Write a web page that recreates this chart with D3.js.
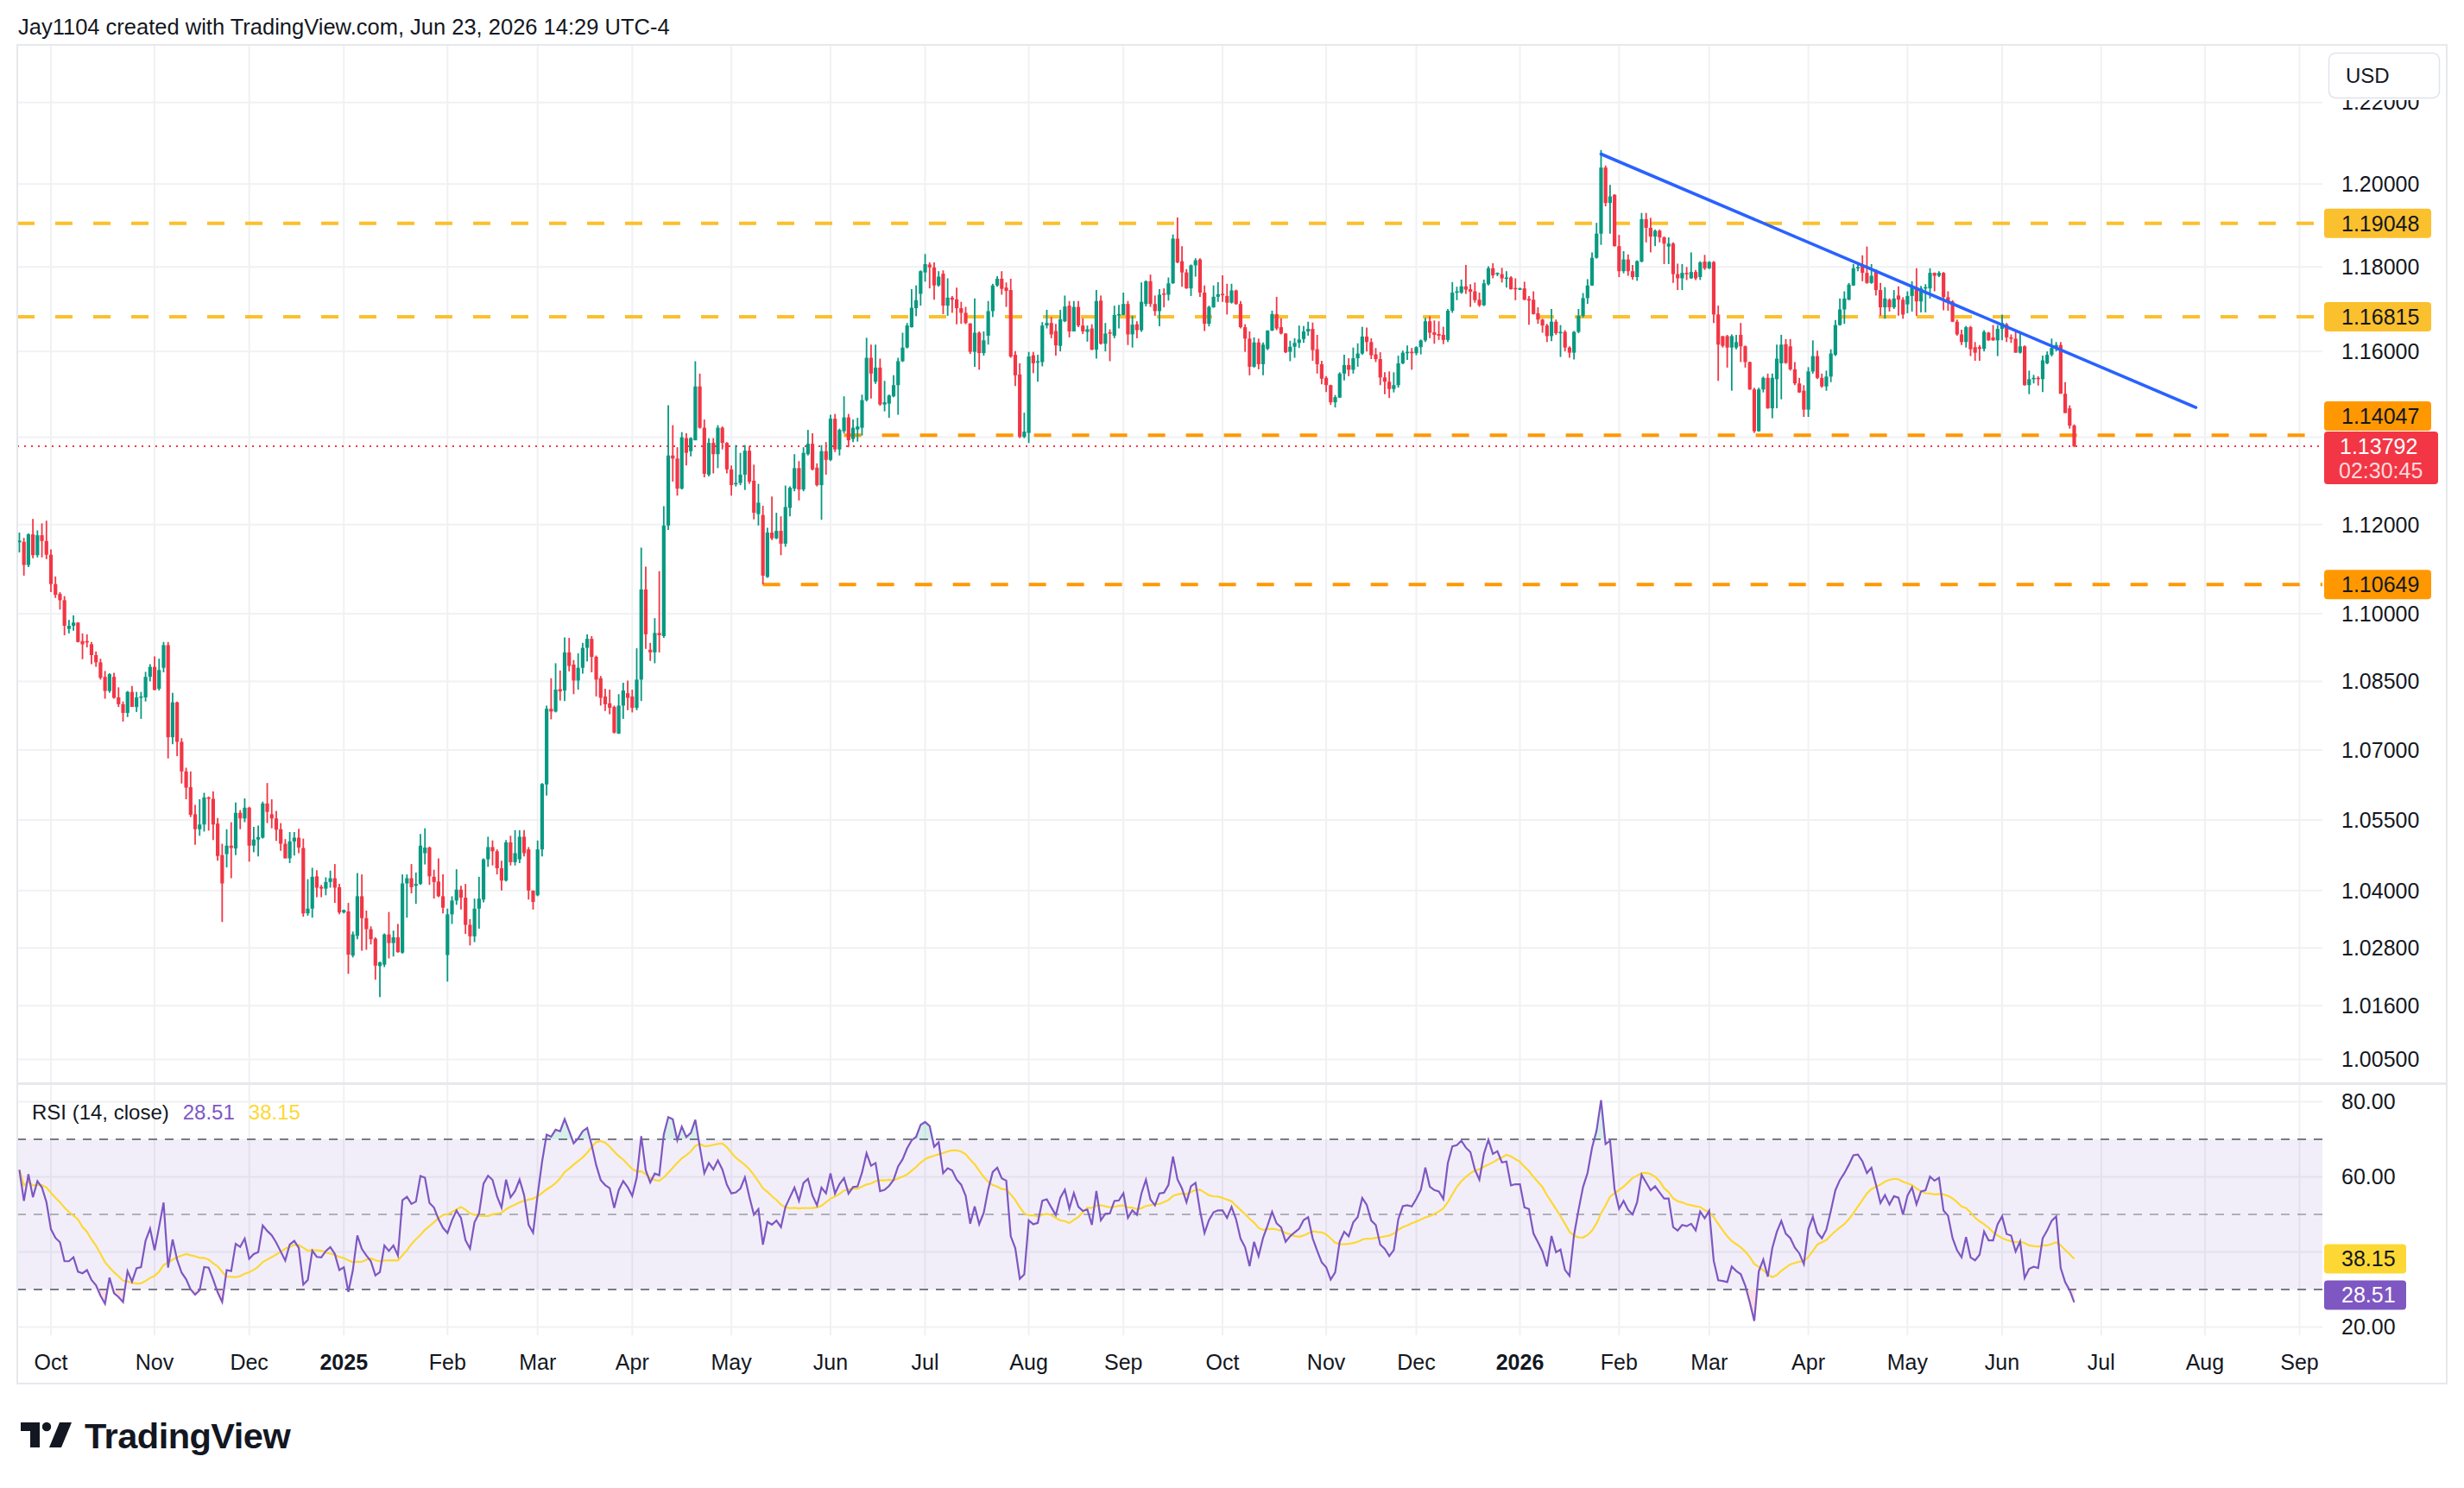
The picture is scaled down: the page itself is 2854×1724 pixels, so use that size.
<!DOCTYPE html>
<html><head><meta charset="utf-8">
<script src="https://cdn.jsdelivr.net/npm/d3@7"></script>
<style>html,body{margin:0;padding:0;background:#fff;}svg{display:block;}</style>
</head><body>
<svg id="c" width="2854" height="1724"></svg>
<script>
// ---------------- DATA ----------------
const titleText = "Jay1104 created with TradingView.com, Jun 23, 2026 14:29 UTC-4";
const startDate = "2024-09-20";
const axisEndDate = "2026-09-30";
const skipDates = ["2024-12-25"];

const opens = [
1.1160,1.1161,1.1109,1.1178,1.1131,1.1176,1.1163,1.1132,1.1066,1.1044,
1.1030,1.0966,1.0973,1.0980,1.0939,1.0939,1.0932,1.0908,1.0892,1.0860,
1.0829,1.0860,1.0815,1.0800,1.0781,1.0827,1.0794,1.0815,1.0815,1.0860,
1.0882,1.0834,1.0880,1.0930,1.0728,1.0804,1.0718,1.0654,1.0620,1.0562,
1.0530,1.0540,1.0598,1.0595,1.0542,1.0475,1.0477,1.0495,1.0489,1.0565,
1.0553,1.0576,1.0495,1.0508,1.0512,1.0585,1.0562,1.0553,1.0530,1.0499,
1.0468,1.0504,1.0512,1.0490,1.0352,1.0362,1.0430,1.0408,1.0404,1.0418,
1.0426,1.0407,1.0354,1.0356,1.0264,1.0305,1.0388,1.0342,1.0319,1.0299,
1.0242,1.0245,1.0308,1.0290,1.0302,1.0270,1.0415,1.0426,1.0410,1.0414,
1.0479,1.0491,1.0429,1.0419,1.0388,1.0265,1.0350,1.0379,1.0402,1.0385,
1.0328,1.0304,1.0362,1.0381,1.0466,1.0492,1.0483,1.0447,1.0421,1.0502,
1.0460,1.0466,1.0514,1.0487,1.0400,1.0390,1.0487,1.0626,1.0790,1.0784,
1.0833,1.0830,1.0914,1.0887,1.0852,1.0880,1.0924,1.0944,1.0904,1.0857,
1.0817,1.0802,1.0794,1.0736,1.0797,1.0824,1.0817,1.0792,1.0854,1.1054,
1.0920,1.0914,1.0957,1.0950,1.1198,1.1358,1.1351,1.1282,1.1398,1.1368,
1.1393,1.1518,1.1422,1.1314,1.1387,1.1361,1.1422,1.1387,1.1326,1.1293,
1.1295,1.1314,1.1369,1.1300,1.1224,1.1222,1.1082,1.1182,1.1169,1.1186,
1.1157,1.1238,1.1282,1.1329,1.1280,1.1361,1.1385,1.1330,1.1290,1.1368,
1.1348,1.1443,1.1372,1.1414,1.1446,1.1396,1.1418,1.1422,1.1486,1.1585,
1.1529,1.1562,1.1476,1.1478,1.1495,1.1521,1.1577,1.1609,1.1657,1.1702,
1.1736,1.1787,1.1806,1.1799,1.1756,1.1784,1.1708,1.1727,1.1723,1.1702,
1.1691,1.1666,1.1599,1.1644,1.1596,1.1637,1.1695,1.1756,1.1772,1.1751,
1.1745,1.1592,1.1546,1.1401,1.1410,1.1591,1.1575,1.1575,1.1661,1.1667,
1.1648,1.1613,1.1671,1.1708,1.1647,1.1705,1.1661,1.1646,1.1654,1.1604,
1.1720,1.1618,1.1645,1.1637,1.1686,1.1686,1.1712,1.1640,1.1664,1.1650,
1.1712,1.1766,1.1712,1.1695,1.1737,1.1734,1.1761,1.1868,1.1814,1.1787,
1.1749,1.1804,1.1818,1.1739,1.1665,1.1704,1.1729,1.1736,1.1731,1.1715,
1.1744,1.1712,1.1657,1.1630,1.1564,1.1621,1.1570,1.1606,1.1649,1.1688,
1.1657,1.1642,1.1599,1.1611,1.1620,1.1629,1.1647,1.1653,1.1605,1.1570,
1.1538,1.1521,1.1481,1.1492,1.1548,1.1568,1.1557,1.1584,1.1595,1.1635,
1.1622,1.1593,1.1582,1.1539,1.1529,1.1512,1.1521,1.1572,1.1597,1.1599,
1.1596,1.1610,1.1626,1.1671,1.1645,1.1641,1.1639,1.1627,1.1696,1.1739,
1.1739,1.1754,1.1747,1.1742,1.1722,1.1709,1.1759,1.1797,1.1783,1.1783,
1.1773,1.1775,1.1750,1.1747,1.1749,1.1724,1.1722,1.1690,1.1675,1.1661,
1.1636,1.1670,1.1643,1.1646,1.1609,1.1597,1.1646,1.1684,1.1726,1.1756,
1.1822,1.1880,1.2040,1.1954,1.1974,1.1850,1.1790,1.1818,1.1790,1.1776,
1.1813,1.1915,1.1894,1.1873,1.1887,1.1871,1.1849,1.1856,1.1783,1.1773,
1.1786,1.1773,1.1788,1.1776,1.1813,1.1797,1.1812,1.1687,1.1636,1.1636,
1.1609,1.1609,1.1639,1.1612,1.1575,1.1511,1.1414,1.1511,1.1538,1.1467,
1.1535,1.1572,1.1617,1.1612,1.1558,1.1525,1.1508,1.1464,1.1553,1.1589,
1.1538,1.1518,1.1541,1.1592,1.1662,1.1699,1.1722,1.1756,1.1798,1.1804,
1.1786,1.1762,1.1793,1.1745,1.1704,1.1722,1.1704,1.1732,1.1722,1.1711,
1.1731,1.1752,1.1718,1.1749,1.1749,1.1786,1.1779,1.1786,1.1728,1.1718,
1.1670,1.1640,1.1622,1.1657,1.1610,1.1610,1.1606,1.1644,1.1633,1.1626,
1.1653,1.1664,1.1633,1.1630,1.1597,1.1612,1.1521,1.1535,1.1538,1.1535,
1.1572,1.1592,1.1608,1.1615,1.1501,1.1467,1.1427];

const highs = [
1.1182,1.1170,1.1180,1.1213,1.1187,1.1203,1.1209,1.1144,1.1083,1.1048,
1.1039,1.0986,1.0996,1.0981,1.0956,1.0954,1.0937,1.0916,1.0900,1.0873,
1.0868,1.0869,1.0837,1.0806,1.0829,1.0840,1.0827,1.0827,1.0871,1.0888,
1.0905,1.0900,1.0937,1.0937,1.0825,1.0806,1.0726,1.0662,1.0654,1.0582,
1.0594,1.0608,1.0600,1.0611,1.0554,1.0499,1.0530,1.0545,1.0587,1.0571,
1.0596,1.0578,1.0535,1.0538,1.0589,1.0629,1.0594,1.0569,1.0543,1.0509,
1.0524,1.0524,1.0531,1.0510,1.0424,1.0448,1.0443,1.0412,1.0428,1.0442,
1.0456,1.0414,1.0360,1.0374,1.0314,1.0437,1.0434,1.0358,1.0325,1.0302,
1.0251,1.0310,1.0355,1.0316,1.0330,1.0434,1.0434,1.0456,1.0438,1.0520,
1.0532,1.0493,1.0444,1.0468,1.0434,1.0362,1.0388,1.0445,1.0410,1.0414,
1.0340,1.0383,1.0429,1.0468,1.0514,1.0506,1.0487,1.0463,1.0507,1.0516,
1.0528,1.0528,1.0528,1.0492,1.0400,1.0506,1.0629,1.0797,1.0857,1.0890,
1.0874,1.0947,1.0946,1.0897,1.0912,1.0935,1.0954,1.0950,1.0907,1.0862,
1.0834,1.0832,1.0797,1.0822,1.0847,1.0852,1.0832,1.0923,1.1148,1.1105,
1.0935,1.0990,1.1095,1.1242,1.1474,1.1428,1.1377,1.1412,1.1409,1.1400,
1.1577,1.1548,1.1441,1.1398,1.1398,1.1428,1.1425,1.1389,1.1335,1.1382,
1.1364,1.1382,1.1380,1.1337,1.1293,1.1243,1.1193,1.1264,1.1227,1.1219,
1.1289,1.1287,1.1361,1.1345,1.1377,1.1417,1.1409,1.1340,1.1382,1.1389,
1.1452,1.1454,1.1420,1.1495,1.1454,1.1441,1.1445,1.1499,1.1632,1.1616,
1.1616,1.1583,1.1531,1.1499,1.1544,1.1585,1.1644,1.1667,1.1747,1.1756,
1.1792,1.1831,1.1811,1.1811,1.1790,1.1792,1.1773,1.1731,1.1751,1.1717,
1.1705,1.1666,1.1725,1.1647,1.1647,1.1719,1.1760,1.1778,1.1790,1.1763,
1.1772,1.1601,1.1572,1.1457,1.1599,1.1599,1.1592,1.1669,1.1698,1.1681,
1.1665,1.1698,1.1732,1.1719,1.1719,1.1719,1.1678,1.1661,1.1664,1.1745,
1.1732,1.1667,1.1652,1.1708,1.1710,1.1739,1.1719,1.1684,1.1671,1.1763,
1.1768,1.1782,1.1732,1.1747,1.1749,1.1775,1.1878,1.1919,1.1850,1.1795,
1.1806,1.1821,1.1821,1.1756,1.1708,1.1756,1.1764,1.1780,1.1760,1.1760,
1.1746,1.1719,1.1664,1.1647,1.1633,1.1630,1.1621,1.1650,1.1696,1.1729,
1.1678,1.1643,1.1625,1.1631,1.1661,1.1660,1.1670,1.1668,1.1639,1.1578,
1.1542,1.1522,1.1498,1.1551,1.1592,1.1584,1.1609,1.1619,1.1658,1.1656,
1.1631,1.1608,1.1598,1.1551,1.1553,1.1551,1.1590,1.1602,1.1614,1.1608,
1.1612,1.1628,1.1679,1.1683,1.1673,1.1671,1.1658,1.1700,1.1764,1.1753,
1.1770,1.1805,1.1759,1.1763,1.1739,1.1770,1.1802,1.1809,1.1787,1.1798,
1.1790,1.1778,1.1773,1.1751,1.1765,1.1731,1.1742,1.1704,1.1677,1.1665,
1.1700,1.1675,1.1662,1.1650,1.1612,1.1648,1.1700,1.1738,1.1771,1.1835,
1.1906,1.2083,1.2045,1.1998,1.1975,1.1877,1.1838,1.1830,1.1805,1.1816,
1.1930,1.1930,1.1918,1.1890,1.1890,1.1873,1.1871,1.1859,1.1808,1.1807,
1.1800,1.1835,1.1793,1.1814,1.1829,1.1814,1.1814,1.1708,1.1636,1.1639,
1.1640,1.1639,1.1667,1.1614,1.1576,1.1515,1.1515,1.1541,1.1548,1.1548,
1.1616,1.1639,1.1629,1.1629,1.1575,1.1538,1.1521,1.1563,1.1626,1.1602,
1.1548,1.1555,1.1605,1.1674,1.1725,1.1742,1.1762,1.1807,1.1806,1.1828,
1.1849,1.1807,1.1794,1.1762,1.1752,1.1725,1.1745,1.1754,1.1728,1.1742,
1.1766,1.1797,1.1755,1.1759,1.1797,1.1787,1.1790,1.1788,1.1742,1.1721,
1.1675,1.1651,1.1660,1.1660,1.1622,1.1615,1.1650,1.1646,1.1662,1.1662,
1.1687,1.1667,1.1640,1.1650,1.1646,1.1614,1.1555,1.1545,1.1542,1.1590,
1.1600,1.1630,1.1622,1.1622,1.1528,1.1474,1.1430];

const lows = [
1.1137,1.1085,1.1104,1.1124,1.1126,1.1126,1.1122,1.1048,1.1035,1.1009,
1.0952,1.0956,1.0962,1.0936,1.0899,1.0925,1.0888,1.0882,1.0854,1.0812,
1.0825,1.0812,1.0794,1.0762,1.0772,1.0794,1.0783,1.0768,1.0806,1.0850,
1.0831,1.0830,1.0870,1.0682,1.0713,1.0687,1.0628,1.0594,1.0556,1.0497,
1.0516,1.0525,1.0527,1.0507,1.0463,1.0334,1.0449,1.0426,1.0475,1.0530,
1.0545,1.0461,1.0481,1.0472,1.0510,1.0543,1.0532,1.0505,1.0484,1.0468,
1.0458,1.0474,1.0479,1.0345,1.0347,1.0343,1.0386,1.0386,1.0390,1.0406,
1.0374,1.0350,1.0352,1.0226,1.0260,1.0298,1.0274,1.0276,1.0287,1.0214,
1.0178,1.0240,1.0258,1.0262,1.0270,1.0268,1.0343,1.0394,1.0372,1.0412,
1.0455,1.0412,1.0383,1.0386,1.0352,1.0210,1.0330,1.0370,1.0360,1.0309,
1.0285,1.0292,1.0320,1.0375,1.0450,1.0453,1.0434,1.0400,1.0419,1.0453,
1.0453,1.0458,1.0472,1.0381,1.0360,1.0388,1.0472,1.0602,1.0767,1.0782,
1.0808,1.0807,1.0872,1.0822,1.0832,1.0867,1.0894,1.0870,1.0817,1.0797,
1.0785,1.0778,1.0736,1.0735,1.0768,1.0787,1.0782,1.0787,1.0807,1.0922,
1.0895,1.0890,1.0914,1.0946,1.1188,1.1298,1.1266,1.1280,1.1335,1.1356,
1.1393,1.1420,1.1308,1.1310,1.1317,1.1329,1.1372,1.1317,1.1266,1.1287,
1.1290,1.1279,1.1293,1.1212,1.1198,1.1065,1.1080,1.1165,1.1167,1.1131,
1.1150,1.1219,1.1276,1.1255,1.1276,1.1358,1.1324,1.1287,1.1211,1.1314,
1.1345,1.1366,1.1358,1.1409,1.1377,1.1389,1.1390,1.1404,1.1483,1.1490,
1.1524,1.1473,1.1460,1.1445,1.1493,1.1452,1.1575,1.1607,1.1656,1.1683,
1.1708,1.1765,1.1749,1.1722,1.1753,1.1688,1.1684,1.1691,1.1664,1.1665,
1.1664,1.1594,1.1564,1.1557,1.1590,1.1616,1.1681,1.1753,1.1734,1.1705,
1.1585,1.1519,1.1398,1.1398,1.1387,1.1549,1.1529,1.1565,1.1654,1.1631,
1.1590,1.1600,1.1669,1.1633,1.1647,1.1657,1.1641,1.1623,1.1603,1.1583,
1.1616,1.1600,1.1577,1.1631,1.1654,1.1685,1.1615,1.1609,1.1631,1.1646,
1.1706,1.1705,1.1684,1.1659,1.1704,1.1720,1.1760,1.1809,1.1753,1.1748,
1.1731,1.1777,1.1729,1.1648,1.1659,1.1703,1.1717,1.1717,1.1687,1.1713,
1.1710,1.1654,1.1599,1.1544,1.1562,1.1558,1.1544,1.1603,1.1648,1.1650,
1.1640,1.1596,1.1577,1.1585,1.1608,1.1620,1.1637,1.1578,1.1548,1.1523,
1.1505,1.1475,1.1469,1.1491,1.1532,1.1542,1.1548,1.1564,1.1592,1.1600,
1.1582,1.1575,1.1521,1.1500,1.1491,1.1504,1.1515,1.1570,1.1580,1.1557,
1.1591,1.1593,1.1622,1.1631,1.1618,1.1627,1.1617,1.1622,1.1691,1.1721,
1.1736,1.1736,1.1705,1.1715,1.1705,1.1707,1.1756,1.1773,1.1778,1.1763,
1.1751,1.1746,1.1721,1.1745,1.1721,1.1663,1.1687,1.1665,1.1644,1.1622,
1.1624,1.1639,1.1587,1.1600,1.1585,1.1581,1.1643,1.1680,1.1712,1.1755,
1.1820,1.1853,1.1946,1.1880,1.1849,1.1776,1.1785,1.1779,1.1770,1.1767,
1.1811,1.1859,1.1835,1.1850,1.1859,1.1807,1.1807,1.1762,1.1745,1.1745,
1.1769,1.1772,1.1769,1.1769,1.1793,1.1795,1.1667,1.1531,1.1609,1.1562,
1.1508,1.1605,1.1575,1.1562,1.1510,1.1410,1.1413,1.1504,1.1466,1.1444,
1.1467,1.1488,1.1571,1.1555,1.1521,1.1503,1.1447,1.1447,1.1548,1.1535,
1.1515,1.1508,1.1528,1.1589,1.1661,1.1665,1.1721,1.1755,1.1790,1.1766,
1.1760,1.1760,1.1732,1.1684,1.1677,1.1694,1.1700,1.1684,1.1677,1.1690,
1.1694,1.1684,1.1692,1.1692,1.1725,1.1742,1.1776,1.1697,1.1696,1.1669,
1.1637,1.1615,1.1609,1.1589,1.1578,1.1578,1.1600,1.1625,1.1625,1.1589,
1.1626,1.1622,1.1620,1.1597,1.1595,1.1520,1.1500,1.1525,1.1520,1.1505,
1.1570,1.1588,1.1600,1.1501,1.1456,1.1420,1.1377];

const closes = [
1.1164,1.1109,1.1178,1.1131,1.1176,1.1163,1.1132,1.1066,1.1042,1.1030,
1.0973,1.0973,1.0980,1.0937,1.0932,1.0937,1.0908,1.0892,1.0858,1.0829,
1.0866,1.0814,1.0800,1.0781,1.0827,1.0794,1.0815,1.0817,1.0860,1.0882,
1.0831,1.0875,1.0930,1.0728,1.0804,1.0718,1.0654,1.0619,1.0561,1.0530,
1.0540,1.0598,1.0595,1.0540,1.0473,1.0415,1.0495,1.0490,1.0565,1.0553,
1.0576,1.0495,1.0508,1.0513,1.0585,1.0567,1.0553,1.0529,1.0499,1.0468,
1.0504,1.0512,1.0491,1.0352,1.0362,1.0429,1.0406,1.0404,1.0418,1.0426,
1.0406,1.0354,1.0359,1.0266,1.0308,1.0388,1.0342,1.0319,1.0298,1.0243,
1.0250,1.0308,1.0290,1.0302,1.0271,1.0415,1.0426,1.0407,1.0414,1.0495,
1.0491,1.0430,1.0418,1.0388,1.0364,1.0350,1.0379,1.0402,1.0385,1.0328,
1.0304,1.0362,1.0383,1.0466,1.0492,1.0483,1.0447,1.0421,1.0502,1.0460,
1.0479,1.0514,1.0479,1.0400,1.0376,1.0487,1.0627,1.0790,1.0784,1.0832,
1.0828,1.0914,1.0884,1.0852,1.0880,1.0924,1.0944,1.0904,1.0854,1.0814,
1.0800,1.0792,1.0738,1.0797,1.0830,1.0814,1.0792,1.0854,1.1054,1.0954,
1.0914,1.0957,1.0952,1.1198,1.1358,1.1351,1.1282,1.1400,1.1364,1.1398,
1.1518,1.1422,1.1316,1.1387,1.1361,1.1422,1.1387,1.1326,1.1290,1.1295,
1.1314,1.1369,1.1298,1.1227,1.1250,1.1085,1.1182,1.1169,1.1186,1.1157,
1.1240,1.1284,1.1329,1.1280,1.1364,1.1385,1.1326,1.1290,1.1368,1.1348,
1.1443,1.1372,1.1417,1.1446,1.1393,1.1422,1.1425,1.1486,1.1585,1.1548,
1.1562,1.1476,1.1481,1.1497,1.1521,1.1577,1.1609,1.1661,1.1703,1.1721,
1.1790,1.1807,1.1799,1.1756,1.1777,1.1708,1.1727,1.1722,1.1702,1.1691,
1.1667,1.1599,1.1644,1.1596,1.1626,1.1695,1.1756,1.1772,1.1748,1.1743,
1.1588,1.1544,1.1401,1.1413,1.1588,1.1572,1.1577,1.1661,1.1667,1.1640,
1.1614,1.1676,1.1706,1.1647,1.1705,1.1661,1.1647,1.1652,1.1604,1.1719,
1.1618,1.1642,1.1643,1.1686,1.1688,1.1712,1.1640,1.1663,1.1650,1.1717,
1.1766,1.1712,1.1695,1.1734,1.1736,1.1761,1.1868,1.1811,1.1787,1.1749,
1.1804,1.1816,1.1739,1.1665,1.1705,1.1729,1.1735,1.1735,1.1715,1.1744,
1.1712,1.1657,1.1630,1.1564,1.1621,1.1570,1.1616,1.1649,1.1688,1.1654,
1.1642,1.1598,1.1611,1.1620,1.1628,1.1647,1.1653,1.1603,1.1570,1.1536,
1.1521,1.1481,1.1493,1.1548,1.1568,1.1557,1.1584,1.1595,1.1635,1.1622,
1.1591,1.1582,1.1539,1.1529,1.1512,1.1521,1.1572,1.1597,1.1599,1.1597,
1.1610,1.1626,1.1671,1.1644,1.1639,1.1637,1.1627,1.1696,1.1739,1.1742,
1.1754,1.1746,1.1741,1.1721,1.1709,1.1761,1.1797,1.1780,1.1786,1.1773,
1.1775,1.1747,1.1749,1.1749,1.1722,1.1720,1.1688,1.1675,1.1661,1.1636,
1.1670,1.1643,1.1646,1.1609,1.1597,1.1646,1.1684,1.1726,1.1756,1.1822,
1.1880,1.2040,1.1954,1.1970,1.1850,1.1790,1.1818,1.1790,1.1776,1.1814,
1.1915,1.1894,1.1873,1.1887,1.1871,1.1856,1.1856,1.1783,1.1773,1.1786,
1.1783,1.1788,1.1773,1.1811,1.1797,1.1812,1.1687,1.1616,1.1613,1.1609,
1.1636,1.1622,1.1612,1.1575,1.1511,1.1414,1.1511,1.1538,1.1467,1.1538,
1.1583,1.1616,1.1573,1.1558,1.1525,1.1504,1.1464,1.1553,1.1589,1.1538,
1.1518,1.1541,1.1595,1.1662,1.1699,1.1725,1.1758,1.1797,1.1800,1.1786,
1.1762,1.1779,1.1745,1.1704,1.1725,1.1704,1.1725,1.1722,1.1687,1.1731,
1.1752,1.1718,1.1749,1.1752,1.1786,1.1779,1.1786,1.1728,1.1718,1.1670,
1.1640,1.1622,1.1657,1.1605,1.1597,1.1606,1.1646,1.1626,1.1626,1.1653,
1.1667,1.1633,1.1630,1.1597,1.1612,1.1521,1.1535,1.1538,1.1535,1.1579,
1.1592,1.1608,1.1615,1.1501,1.1456,1.1427,1.13792];

// closes of the 14 sessions before the first visible bar (RSI warm-up)
const rsiSeedCloses = [1.1073,1.1045,1.1088,1.1111,1.1083,1.1039,1.1035,1.1012,1.1075,1.1074,1.1134,1.1116,1.1117,1.1162];

const priceTicks = [1.22,1.20,1.18,1.16,1.14,1.12,1.10,1.085,1.07,1.055,1.04,1.028,1.016,1.005];
const rsiTicks = [80,60,40,20];
const rsiBands = [70,50,30];

const levelPrices = [1.19048,1.16815,1.14047,1.10649];
const levelStarts = [null,null,"2025-06-05","2025-05-12"];
const levelKinds  = ["yellow","yellow","orange","orange"];

const trendDates  = ["2026-01-27","2026-07-30"];
const trendPrices = [1.2073,1.1469];

const lastPrice = 1.13792;
const countdown = "02:30:45";
const rsiLast = 28.51;
const rsiMaLast = 38.15;
const currency = "USD";
const monthNames = ["Jan","Feb","Mar","Apr","May","Jun","Jul","Aug","Sep","Oct","Nov","Dec"];

// ---------------- LAYOUT ----------------
const FONT = "'Liberation Sans', Arial, sans-serif";
const TXT = "#131722";
const GREEN = "#089981", RED = "#F23645";
const COLORS = {yellow:"#FBC02D", orange:"#FF9800"};
const paneL = 20, paneR = 2690, priceTop = 52, priceBot = 1255, rsiTop = 1257, rsiBot = 1547;
const frameR = 2834, frameB = 1603;

function genDates(start, end) {
  const out = []; const d = new Date(start + "T00:00:00Z"); const e = new Date(end + "T00:00:00Z");
  while (d <= e) {
    const wd = d.getUTCDay(); const s = d.toISOString().slice(0, 10);
    if (wd !== 0 && wd !== 6 && !skipDates.includes(s)) out.push(s);
    d.setUTCDate(d.getUTCDate() + 1);
  }
  return out;
}
const dates = genDates(startDate, axisEndDate);
const kOf = s => dates.indexOf(s);
const n = closes.length;

const x = d3.scaleLinear().domain([kOf("2024-10-01"), kOf("2026-06-01")]).range([59, 2319]);
const y = d3.scaleLog().domain([1.0002, 1.2343]).range([priceBot, priceTop]);
const yr = d3.scaleLinear().domain([20, 80]).range([1537.5, 1276.5]);

const svg = d3.select("#c");
svg.append("rect").attr("width", 2854).attr("height", 1724).attr("fill", "#fff");
const defs = svg.append("defs");
defs.append("clipPath").attr("id", "clipP").append("rect").attr("x", paneL).attr("y", priceTop).attr("width", paneR - paneL).attr("height", priceBot - priceTop);
defs.append("clipPath").attr("id", "clipR").append("rect").attr("x", paneL).attr("y", rsiTop).attr("width", paneR - paneL).attr("height", rsiBot - rsiTop);
defs.append("clipPath").attr("id", "clipOB").append("rect").attr("x", paneL).attr("y", rsiTop).attr("width", paneR - paneL).attr("height", yr(70) - rsiTop);
defs.append("clipPath").attr("id", "clipOS").append("rect").attr("x", paneL).attr("y", yr(30)).attr("width", paneR - paneL).attr("height", rsiBot - yr(30));

// month ticks
const monthTicks = [];
for (let k = 1; k < dates.length; k++) if (dates[k].slice(5, 7) !== dates[k - 1].slice(5, 7)) monthTicks.push(k);

// grid
const grid = svg.append("g").attr("stroke", "#F0F1F3").attr("stroke-width", 2);
monthTicks.forEach(k => grid.append("line").attr("x1", x(k)).attr("x2", x(k)).attr("y1", priceTop).attr("y2", rsiBot));
priceTicks.forEach(p => grid.append("line").attr("x1", paneL).attr("x2", paneR).attr("y1", y(p)).attr("y2", y(p)));
rsiTicks.forEach(v => grid.append("line").attr("x1", paneL).attr("x2", paneR).attr("y1", yr(v)).attr("y2", yr(v)));

// RSI band
svg.append("rect").attr("x", paneL).attr("y", yr(70)).attr("width", paneR - paneL).attr("height", yr(30) - yr(70)).attr("fill", "rgba(126,87,194,0.1)");
rsiBands.forEach(v => svg.append("line").attr("x1", paneL).attr("x2", paneR).attr("y1", yr(v)).attr("y2", yr(v))
  .attr("stroke", v === 50 ? "rgba(120,123,134,0.55)" : "#787B86").attr("stroke-width", 2).attr("stroke-dasharray", "10,9"));

// level lines
const pricePane = svg.append("g").attr("clip-path", "url(#clipP)");
levelPrices.forEach((p, j) => {
  const x0 = levelStarts[j] ? x(kOf(levelStarts[j])) : paneL;
  pricePane.append("line").attr("x1", x0).attr("x2", paneR).attr("y1", y(p)).attr("y2", y(p))
    .attr("stroke", COLORS[levelKinds[j]]).attr("stroke-width", 4).attr("stroke-dasharray", "20,24");
});
// current price line
pricePane.append("line").attr("x1", paneL).attr("x2", paneR).attr("y1", y(lastPrice)).attr("y2", y(lastPrice))
  .attr("stroke", RED).attr("stroke-width", 2).attr("stroke-dasharray", "2,6");

// candles
const bw = 4.2;
const cg = pricePane.append("g");
for (let k = 0; k < n; k++) {
  const o = opens[k], c = closes[k];
  const col = c >= o ? GREEN : RED;
  const hi = Math.max(highs[k], o, c), lo = Math.min(lows[k], o, c);
  cg.append("line").attr("x1", x(k)).attr("x2", x(k)).attr("y1", y(hi)).attr("y2", y(lo)).attr("stroke", col).attr("stroke-width", 1.8);
  const yt = y(Math.max(o, c)), yb = y(Math.min(o, c));
  cg.append("rect").attr("x", x(k) - bw / 2).attr("y", yt).attr("width", bw).attr("height", Math.max(1.6, yb - yt)).attr("fill", col);
}
// trend line
pricePane.append("line").attr("x1", x(kOf(trendDates[0]))).attr("y1", y(trendPrices[0]))
  .attr("x2", x(kOf(trendDates[1]))).attr("y2", y(trendPrices[1]))
  .attr("stroke", "#2962FF").attr("stroke-width", 3.6).attr("stroke-linecap", "round");

// RSI (Wilder, 14) and its 14-SMA
const allC = rsiSeedCloses.concat(closes);
const rsiAll = [];
let ag = 0, al = 0;
for (let i = 1; i < allC.length; i++) {
  const ch = allC[i] - allC[i - 1], g = Math.max(ch, 0), l = Math.max(-ch, 0);
  if (i <= 14) { ag += g; al += l; if (i === 14) { ag /= 14; al /= 14; rsiAll[i] = 100 - 100 / (1 + ag / al); } }
  else { ag = (ag * 13 + g) / 14; al = (al * 13 + l) / 14; rsiAll[i] = al === 0 ? 100 : 100 - 100 / (1 + ag / al); }
}
const rsi = closes.map((c, k) => rsiAll[k + rsiSeedCloses.length]);
const rsiMa = rsi.map((v, k) => d3.mean(rsi.slice(Math.max(0, k - 13), k + 1)));

const rsiG = svg.append("g").attr("clip-path", "url(#clipR)");
const areaOB = d3.area().x((d, k) => x(k)).y0(yr(70)).y1(d => yr(d));
rsiG.append("g").attr("clip-path", "url(#clipOB)").append("path").datum(rsi).attr("d", areaOB).attr("fill", "rgba(8,153,129,0.16)");
const areaOS = d3.area().x((d, k) => x(k)).y0(yr(30)).y1(d => yr(d));
rsiG.append("g").attr("clip-path", "url(#clipOS)").append("path").datum(rsi).attr("d", areaOS).attr("fill", "rgba(242,54,69,0.16)");
rsiG.append("path").datum(rsiMa).attr("d", d3.line().x((d, k) => x(k)).y(d => yr(d))).attr("fill", "none").attr("stroke", "#FDD835").attr("stroke-width", 2.2);
rsiG.append("path").datum(rsi).attr("d", d3.line().x((d, k) => x(k)).y(d => yr(d))).attr("fill", "none").attr("stroke", "#7E57C2").attr("stroke-width", 2.2);

// separator and frame
svg.append("line").attr("x1", paneL).attr("x2", frameR).attr("y1", 1255.5).attr("y2", 1255.5).attr("stroke", "#E6E8EC").attr("stroke-width", 3);
svg.append("rect").attr("x", paneL).attr("y", priceTop).attr("width", frameR - paneL).attr("height", frameB - priceTop)
  .attr("fill", "none").attr("stroke", "#E6E8EC").attr("stroke-width", 2);

// --------- right axis labels ----------
const axisX = 2712, boxX = 2692, boxW = 124, boxH = 34;
const boxes = [];
const curTop = y(lastPrice) - 17;
boxes.push({top: curTop, bot: curTop + 61});
const levelBoxes = levelPrices.map((p, j) => {
  let top = y(p) - boxH / 2, bot = top + boxH;
  boxes.forEach(b => { if (bot > b.top && top < b.bot) { bot = b.top - 1; top = bot - boxH; } });
  return {top, bot, j};
});
levelBoxes.forEach(b => boxes.push(b));
const rsiBoxes = [{v: rsiMaLast, fill: "#FDD835", tc: TXT}, {v: rsiLast, fill: "#7E57C2", tc: "#fff"}];
rsiBoxes.forEach(b => boxes.push({top: yr(b.v) - boxH / 2, bot: yr(b.v) + boxH / 2}));

const axisG = svg.append("g").attr("font-family", FONT).attr("font-size", 25).attr("fill", TXT);
function hidden(cy) { return boxes.some(b => cy + 10 > b.top && cy - 10 < b.bot); }
priceTicks.forEach(p => { const cy = y(p); if (!hidden(cy)) axisG.append("text").attr("x", axisX).attr("y", cy).attr("dy", "0.35em").text(p.toFixed(5)); });
rsiTicks.forEach(v => { const cy = yr(v); if (!hidden(cy)) axisG.append("text").attr("x", axisX).attr("y", cy).attr("dy", "0.35em").text(v.toFixed(2)); });

levelBoxes.forEach(b => {
  axisG.append("rect").attr("x", boxX).attr("y", b.top).attr("width", boxW).attr("height", boxH).attr("rx", 4).attr("fill", COLORS[levelKinds[b.j]]);
  axisG.append("text").attr("x", axisX).attr("y", (b.top + b.bot) / 2).attr("dy", "0.35em").text(levelPrices[b.j].toFixed(5));
});
axisG.append("rect").attr("x", boxX).attr("y", curTop).attr("width", 132).attr("height", 61).attr("rx", 4).attr("fill", RED);
axisG.append("text").attr("x", axisX - 2).attr("y", y(lastPrice)).attr("dy", "0.35em").attr("fill", "#fff").text(lastPrice.toFixed(5));
axisG.append("text").attr("x", axisX - 3).attr("y", y(lastPrice) + 28).attr("dy", "0.35em").attr("fill", "rgba(255,255,255,0.82)").text(countdown);
rsiBoxes.forEach(b => {
  axisG.append("rect").attr("x", boxX).attr("y", yr(b.v) - boxH / 2).attr("width", 95).attr("height", boxH).attr("rx", 4).attr("fill", b.fill);
  axisG.append("text").attr("x", axisX).attr("y", yr(b.v)).attr("dy", "0.35em").attr("fill", b.tc).text(b.v.toFixed(2));
});
// currency button (covers the top of the highest tick label)
svg.append("rect").attr("x", 2691).attr("y", 53).attr("width", 142).attr("height", 63).attr("fill", "#fff");
svg.append("rect").attr("x", 2697.5).attr("y", 61.5).attr("width", 128).attr("height", 52).attr("rx", 8).attr("fill", "#fff").attr("stroke", "#E0E3EB").attr("stroke-width", 1.5);
svg.append("text").attr("x", 2717).attr("y", 88).attr("dy", "0.35em").attr("font-family", FONT).attr("font-size", 24).attr("fill", TXT).text(currency);

// --------- bottom time axis ----------
const tG = svg.append("g").attr("font-family", FONT).attr("font-size", 25).attr("fill", TXT).attr("text-anchor", "middle");
monthTicks.forEach(k => {
  const m = +dates[k].slice(5, 7) - 1;
  const t = tG.append("text").attr("x", x(k)).attr("y", 1578).attr("dy", "0.35em");
  if (m === 0) t.attr("font-weight", "bold").text(dates[k].slice(0, 4)); else t.text(monthNames[m]);
});

// --------- legend / title / logo ----------
const lg = svg.append("g").attr("font-family", FONT).attr("font-size", 24);
let lx = 37;
[["RSI (14, close)", TXT], [rsiLast.toFixed(2), "#7E57C2"], [rsiMaLast.toFixed(2), "#FDD835"]].forEach(([s, c]) => {
  const t = lg.append("text").attr("x", lx).attr("y", 1289).attr("dy", "0.35em").attr("fill", c).text(s);
  lx += t.node().getComputedTextLength() + 16;
});
svg.append("text").attr("x", 21).attr("y", 31).attr("dy", "0.35em").attr("font-family", FONT).attr("font-size", 25.5).attr("fill", TXT).text(titleText);

const logo = svg.append("g").attr("fill", TXT);
logo.append("path").attr("d", "M24,1648 H46 V1677 H35 V1658 H24 Z");
logo.append("circle").attr("cx", 54).attr("cy", 1653).attr("r", 5.2);
logo.append("path").attr("d", "M69,1648 H83 L71,1677 H57 Z");
logo.append("text").attr("x", 98).attr("y", 1678).attr("font-family", FONT).attr("font-size", 41.5).attr("font-weight", "bold").attr("letter-spacing", -0.5).text("TradingView");
</script>
</body></html>
